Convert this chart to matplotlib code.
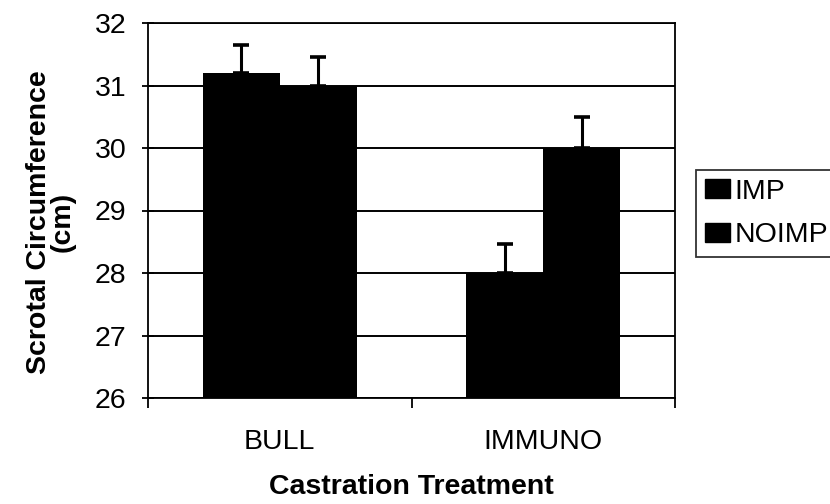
import numpy as np
import matplotlib.pyplot as plt
from matplotlib.patches import Patch

# data
categories = ['BULL', 'IMMUNO']
series = ['IMP', 'NOIMP']
imp_vals = [31.2, 28.0]
noimp_vals = [31.0, 30.0]
imp_err = [0.45, 0.47]
noimp_err = [0.45, 0.5]
y_ticks = [26, 27, 28, 29, 30, 31, 32]

plt.rcParams['font.family'] = ['Liberation Sans', 'DejaVu Sans']
fs = 20.5

fig = plt.figure(figsize=(8.3, 5.04), dpi=100)
ax = fig.add_axes([148 / 830, 1 - 398 / 504, (675 - 148) / 830, (398 - 23) / 504])

x = np.arange(len(categories))
w = 0.292

ax.yaxis.grid(True, color='black', linewidth=1.4)
ax.set_axisbelow(True)

err_kw = dict(ecolor='black', elinewidth=2.2, capsize=6, capthick=2.6)
ax.bar(x - w / 2, imp_vals, w, color='black', linewidth=0,
       yerr=[np.zeros(len(imp_err)), imp_err], error_kw=err_kw, zorder=3)
ax.bar(x + w / 2, noimp_vals, w, color='black', linewidth=0,
       yerr=[np.zeros(len(noimp_err)), noimp_err], error_kw=err_kw, zorder=3)

ax.set_ylim(26, 32)
ax.set_xlim(-0.5, len(categories) - 0.5)
ax.set_yticks(y_ticks)
ax.set_yticklabels([str(t) for t in y_ticks], fontsize=fs)
ax.tick_params(axis='y', direction='inout', length=9, width=1.3, pad=11)

ax.set_xticks(x)
ax.set_xticklabels(categories, fontsize=fs)
ax.tick_params(axis='x', length=0, pad=22)
ax.set_xticks(np.arange(-0.5, len(categories), 1.0), minor=True)
ax.tick_params(axis='x', which='minor', direction='out', length=7, width=1.3)

for s in ax.spines.values():
    s.set_color('black')
    s.set_linewidth(1.3)

ax.set_ylabel('Scrotal Circumference\n(cm)', fontsize=fs, fontweight='bold',
              labelpad=14, linespacing=0.85)
ax.yaxis.label.set_y(0.47)
ax.set_xlabel('Castration Treatment', fontsize=fs, fontweight='bold', labelpad=14)

handles = [Patch(facecolor='black', edgecolor='black', label=s) for s in series]
leg = fig.legend(handles=handles, loc='upper left',
                 bbox_to_anchor=(696 / 830, 1 - 170 / 504),
                 fontsize=fs, frameon=True, fancybox=False,
                 edgecolor='black', handlelength=0.9, handleheight=0.65,
                 handletextpad=0.15, borderpad=0.3, labelspacing=0.62,
                 borderaxespad=0)
leg.get_frame().set_linewidth(1.3)

plt.savefig('out.png', dpi=100)
plt.close()
